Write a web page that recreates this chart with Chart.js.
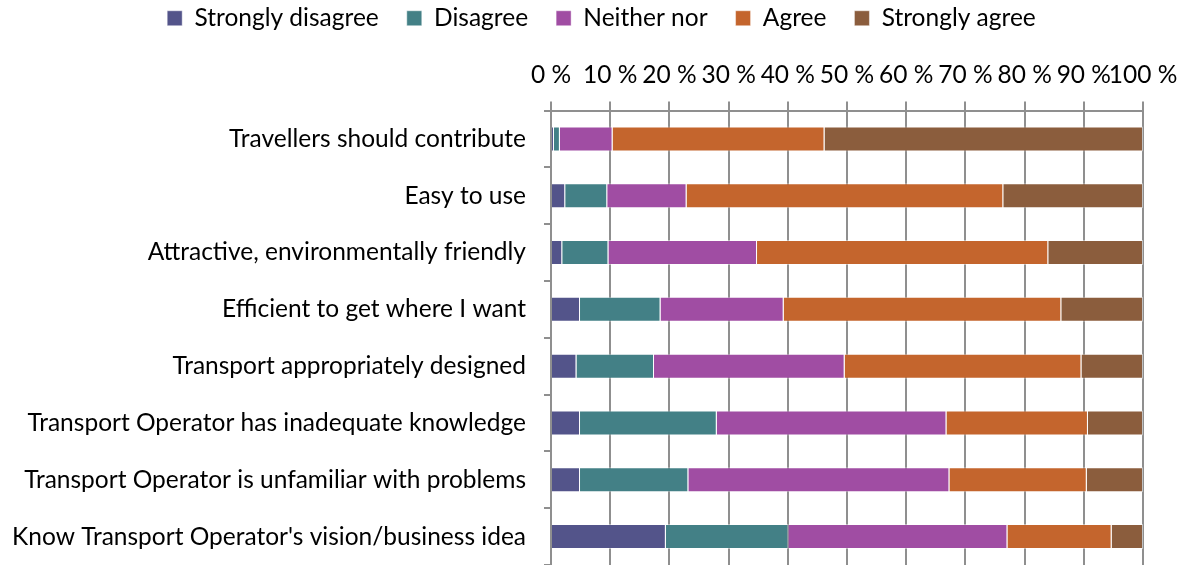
<!DOCTYPE html>
<html>
<head>
<meta charset="utf-8">
<script src="https://cdn.jsdelivr.net/npm/chart.js@4.4.1/dist/chart.umd.min.js"></script>
<style>
  html, body { margin: 0; padding: 0; background: #fff; }
  #wrap { width: 1186px; height: 565px; }
</style>
</head>
<body>
<div id="wrap"><canvas id="barChart"></canvas></div>
<script>
const statements = [
    'Travellers should contribute',
    'Easy to use',
    'Attractive, environmentally friendly',
    'Efficient to get where I want',
    'Transport appropriately designed',
    'Transport Operator has inadequate knowledge',
    'Transport Operator is unfamiliar with problems',
    "Know Transport Operator's vision/business idea"
];

const stronglyDisagree = [0.5, 2.4, 1.9, 4.9, 4.3, 4.9, 4.9, 19.4];
const disagree = [1.0, 7.1, 7.8, 13.6, 13.1, 23.1, 18.3, 20.7];
const neitherNor = [8.9, 13.4, 25.1, 20.8, 32.2, 38.8, 44.1, 37.0];
const agree = [35.8, 53.5, 49.2, 46.9, 40.0, 23.9, 23.2, 17.6];
const stronglyAgree = [53.8, 23.6, 16.0, 13.8, 10.4, 9.3, 9.5, 5.3];

const percentTicks = [0, 10, 20, 30, 40, 50, 60, 70, 80, 90, 100];

const font = {family: 'Lato, "Open Sans", sans-serif', size: 24.5};

function series(label, data, color) {
    return {
        label: label,
        data: data,
        backgroundColor: color,
        borderColor: 'rgba(255, 255, 255, 0.45)',
        borderWidth: 1,
        barPercentage: 0.44,
        categoryPercentage: 1
    };
}

// legend sits a bit right of the canvas centre in the original
const legendShift = {
    id: 'legendShift',
    afterLayout: function (chart) {
        chart.legend.left += 30;
        chart.legend.right += 30;
    }
};

const ctxBar = document.getElementById('barChart').getContext('2d');

const barChart = new Chart(ctxBar, {
    type: 'bar',
    data: {
        labels: statements,
        datasets: [
            series('Strongly disagree', stronglyDisagree, '#53548a'),
            series('Disagree', disagree, '#438086'),
            series('Neither nor', neitherNor, '#a04da3'),
            series('Agree', agree, '#c4652d'),
            series('Strongly agree', stronglyAgree, '#8b5d3d')
        ]
    },
    plugins: [legendShift],
    options: {
        indexAxis: 'y',
        responsive: true,
        maintainAspectRatio: false,
        animation: false,
        layout: {
            padding: {left: 0, right: 43, top: -22, bottom: 0}
        },
        plugins: {
            legend: {
                position: 'top',
                labels: {
                    font: font,
                    color: '#000',
                    boxWidth: 15,
                    boxHeight: 15,
                    padding: 28
                }
            },
            tooltip: {enabled: false}
        },
        scales: {
            x: {
                position: 'top',
                stacked: true,
                min: 0,
                max: 100,
                afterBuildTicks: function (scale) {
                    scale.ticks = percentTicks.map(v => ({value: v}));
                },
                afterFit: function (scale) {
                    scale.height = 70;
                    scale.paddingLeft = 0;
                    scale.paddingRight = 0;
                },
                ticks: {
                    font: font,
                    color: '#000',
                    padding: 12,
                    autoSkip: false,
                    maxRotation: 0,
                    callback: function (value) {
                        return value + ' %';
                    }
                },
                grid: {
                    color: '#8f8f8f',
                    lineWidth: 2,
                    tickLength: 9
                },
                border: {color: '#8f8f8f', width: 2}
            },
            y: {
                stacked: true,
                afterFit: function (scale) {
                    scale.width = 551;
                    scale.paddingTop = 0;
                    scale.paddingBottom = 0;
                },
                ticks: {
                    font: font,
                    color: '#000',
                    padding: 18,
                    autoSkip: false
                },
                grid: {
                    drawOnChartArea: false,
                    color: '#8f8f8f',
                    lineWidth: 2,
                    tickLength: 7
                },
                border: {color: '#8f8f8f', width: 2}
            }
        }
    }
});
</script>
</body>
</html>
